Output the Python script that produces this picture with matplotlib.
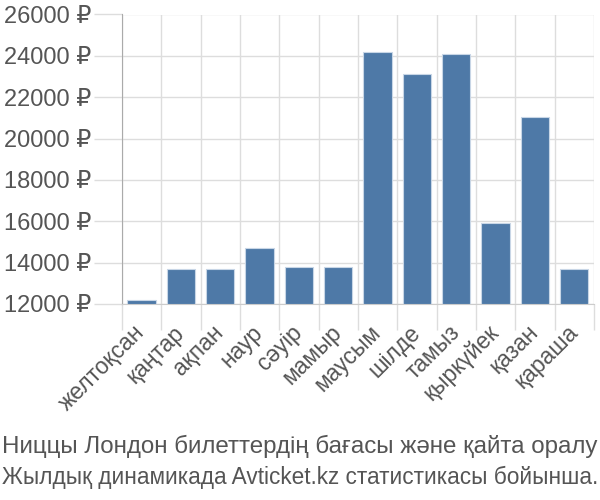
import matplotlib
matplotlib.use("Agg")
import matplotlib.pyplot as plt
import numpy as np

months = ["желтоқсан", "қаңтар", "ақпан", "наур", "сәуір", "мамыр",
          "маусым", "шілде", "тамыз", "қыркүйек", "қазан", "қараша"]
prices = [12200, 13700, 13700, 14700, 13800, 13800,
          24200, 23100, 24100, 15900, 21050, 13700]
yticks = [12000, 14000, 16000, 18000, 20000, 22000, 24000, 26000]
caption1 = "Ниццы Лондон билеттердің бағасы және қайта оралу"
caption2 = "Жылдық динамикада Avticket.kz статистикасы бойынша."

plt.rcParams['font.family'] = ['Liberation Sans', 'DejaVu Sans']

fig = plt.figure(figsize=(6, 5), dpi=100)
ax = fig.add_axes([0.203, 0.392, 0.787, 0.579])

x = np.arange(len(months))
ax.bar(x, [p - 12000 for p in prices], bottom=12000, width=0.72,
       color="#4e79a7", edgecolor="#c8d6e6", linewidth=0.8, zorder=3)

ax.set_xlim(-0.5, len(months) - 0.5)
ax.set_ylim(12000, 26000)

ax.set_yticks(yticks)
ax.set_yticklabels([f"{v} ₽" for v in yticks])
ax.tick_params(axis="y", length=20, color="#dddddd", width=1, labelsize=17,
               labelcolor="#555555", pad=2)

ax.set_xticks(x)
ax.set_xticklabels(months, rotation=45, ha="right", va="center",
                   rotation_mode="anchor")
ax.tick_params(axis="x", which="major", length=0, labelsize=16.5,
               labelcolor="#555555", pad=18)
ax.set_xticks(np.arange(-0.5, len(months), 1), minor=True)
ax.tick_params(axis="x", which="minor", length=19, color="#dddddd", width=1)

ax.grid(True, which="major", axis="y", color="#dddddd", linewidth=1, zorder=0)
ax.grid(True, which="minor", axis="x", color="#dddddd", linewidth=1, zorder=0)

for s in ["top", "right"]:
    ax.spines[s].set_visible(False)
ax.spines["left"].set_color("#aaaaaa")
ax.spines["bottom"].set_color("#cccccc")

fig.text(0.003, 0.108, caption1, fontsize=17.4, color="#555555", va="center")
fig.text(0.003, 0.045, caption2, fontsize=16.3, color="#555555", va="center")

fig.savefig("out.png", dpi=100)
